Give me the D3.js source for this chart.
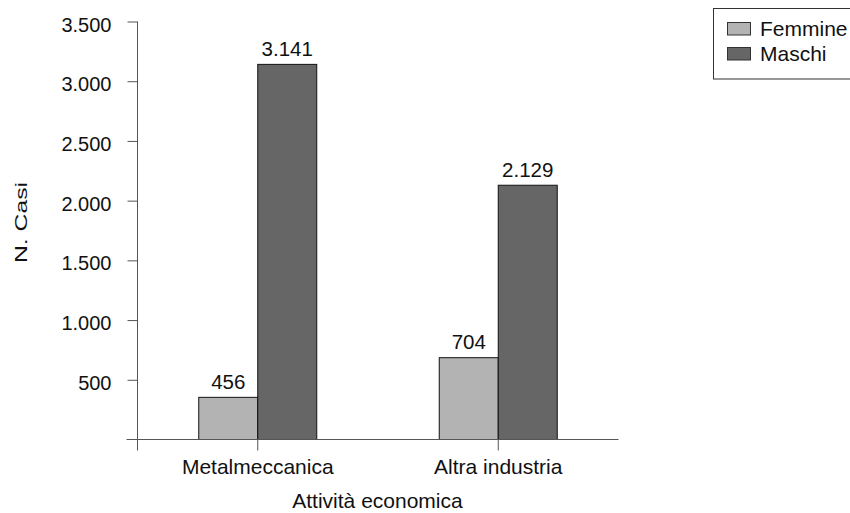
<!DOCTYPE html>
<html>
<head>
<meta charset="utf-8">
<script src="https://cdn.jsdelivr.net/npm/d3@7"></script>
<style>
  body { margin: 0; background: #fff; }
  text { font-family: "Liberation Sans", Arial, sans-serif; fill: #111; }
</style>
</head>
<body>
<svg width="850" height="513"></svg>
<script>
// Data
const categories = ["Metalmeccanica", "Altra industria"];
const series = ["Femmine", "Maschi"];
// bar heights as drawn
const femmine = [353, 685];
const maschi = [3141, 2129];
// value labels as printed above the bars
const femmineLabels = ["456", "704"];
const maschiLabels = ["3.141", "2.129"];
const yTicks = [500, 1000, 1500, 2000, 2500, 3000, 3500];
const yTickLabels = ["500", "1.000", "1.500", "2.000", "2.500", "3.000", "3.500"];

const colors = { Femmine: "#b3b3b3", Maschi: "#666666" };
const axisColor = "#555";
const fontSize = 21;

const svg = d3.select("svg");

// Scales
const y = d3.scaleLinear().domain([0, 3500]).range([439.5, 21.5]);
const x = d3.scaleBand().domain(categories).range([137.5, 618.5]).paddingInner(0);
const barW = 59;

// Y axis
const yAxis = svg.append("g")
  .attr("transform", "translate(137.5,0)")
  .call(d3.axisLeft(y)
    .tickValues(yTicks)
    .tickFormat((d, i) => yTickLabels[i])
    .tickSize(10)
    .tickPadding(16));
yAxis.select(".domain").remove();
yAxis.selectAll(".tick line").attr("stroke", axisColor);
yAxis.selectAll(".tick text")
  .attr("dy", null)
  .attr("y", 9.5)
  .style("font-size", "20px")
  .style("font-family", "Liberation Sans, Arial, sans-serif")
  .attr("fill", "#111");

// vertical axis line, running a little below the baseline
svg.append("line")
  .attr("x1", 137.5).attr("x2", 137.5)
  .attr("y1", y(3500)).attr("y2", y(0) + 11)
  .attr("stroke", axisColor);

// X axis
const xAxis = svg.append("g")
  .attr("transform", `translate(0,${y(0)})`)
  .call(d3.axisBottom(x).tickSize(11).tickPadding(8.5));
xAxis.select(".domain").remove();
xAxis.selectAll(".tick line").attr("stroke", axisColor);
xAxis.selectAll(".tick text")
  .style("font-size", fontSize + "px")
  .style("font-family", "Liberation Sans, Arial, sans-serif")
  .attr("fill", "#111");

// Bars
const rows = categories.map((c, i) => ({
  cat: c,
  bars: [
    { key: "Femmine", value: femmine[i], label: femmineLabels[i], side: -1 },
    { key: "Maschi", value: maschi[i], label: maschiLabels[i], side: 0 }
  ]
}));

const group = svg.append("g")
  .selectAll("g")
  .data(rows)
  .join("g")
  .attr("transform", d => `translate(${x(d.cat) + x.bandwidth() / 2},0)`);

group.selectAll("rect")
  .data(d => d.bars)
  .join("rect")
  .attr("x", d => d.side * barW)
  .attr("y", d => y(d.value))
  .attr("width", barW)
  .attr("height", d => y(0) - y(d.value))
  .attr("fill", d => colors[d.key])
  .attr("stroke", "#111")
  .attr("stroke-width", 1);

group.selectAll("text.val")
  .data(d => d.bars)
  .join("text")
  .attr("class", "val")
  .attr("x", d => d.side * barW + barW / 2)
  .attr("y", d => y(d.value) - 8.5)
  .attr("text-anchor", "middle")
  .style("font-size", "20.5px")
  .text(d => d.label);

// baseline
svg.append("line")
  .attr("x1", 126.5).attr("x2", 618.5)
  .attr("y1", y(0)).attr("y2", y(0))
  .attr("stroke", axisColor);

// Axis titles
svg.append("text")
  .attr("x", 377.5)
  .attr("y", 508)
  .attr("text-anchor", "middle")
  .style("font-size", fontSize + "px")
  .text("Attività economica");

svg.append("text")
  .attr("transform", "translate(26.5,222.5) rotate(-90) scale(1.18,0.8)")
  .attr("text-anchor", "middle")
  .style("font-size", fontSize + "px")
  .text("N. Casi");

// Legend
const legend = svg.append("g");
legend.append("rect")
  .attr("x", 713.5).attr("y", 8.5)
  .attr("width", 160).attr("height", 70.5)
  .attr("fill", "#fff")
  .attr("stroke", "#333");

legend.selectAll("g")
  .data(series)
  .join("g")
  .attr("transform", (d, i) => `translate(727.5,${22.5 + i * 25})`)
  .each(function (d) {
    const g = d3.select(this);
    g.append("rect")
      .attr("width", 23).attr("height", 12.5)
      .attr("fill", colors[d])
      .attr("stroke", "#333");
    g.append("text")
      .attr("x", 32.5).attr("y", 13.5)
      .style("font-size", fontSize + "px")
      .text(d);
  });
</script>
</body>
</html>
